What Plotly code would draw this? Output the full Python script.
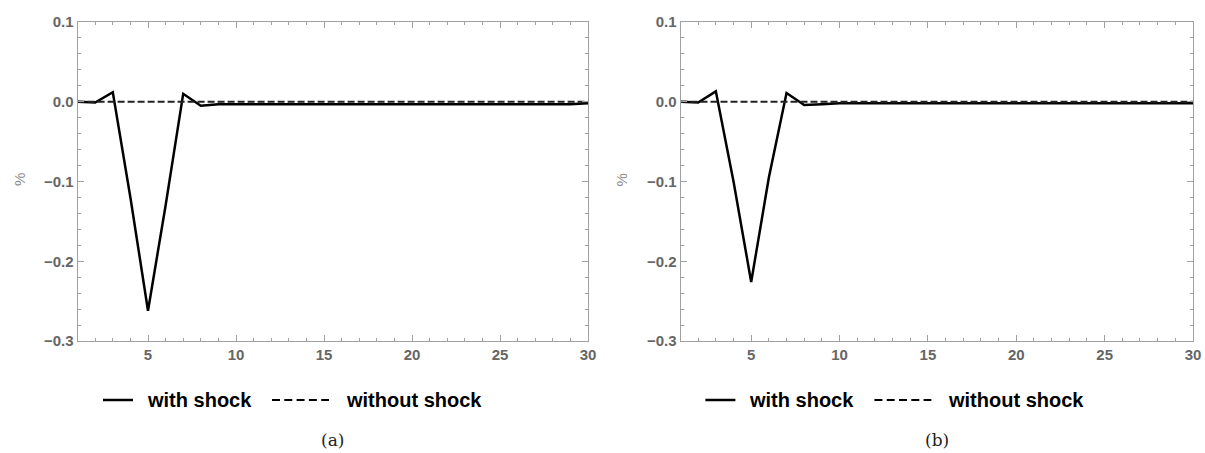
import plotly.graph_objects as go

periods = list(range(1, 31))
with_shock_a = [0.0, -0.001, 0.012, -0.12, -0.262, -0.13, 0.010, -0.005, -0.003, -0.003,
                -0.003, -0.003, -0.003, -0.003, -0.003, -0.003, -0.003, -0.003, -0.003, -0.003,
                -0.003, -0.003, -0.003, -0.003, -0.003, -0.003, -0.003, -0.003, -0.003, -0.002]
with_shock_b = [0.0, -0.001, 0.013, -0.10, -0.226, -0.095, 0.011, -0.004, -0.003, -0.002,
                -0.002, -0.002, -0.002, -0.002, -0.002, -0.002, -0.002, -0.002, -0.002, -0.002,
                -0.002, -0.002, -0.002, -0.002, -0.002, -0.002, -0.002, -0.002, -0.002, -0.002]
without_shock = [0.0] * 30
series_names = ["with shock", "without shock"]
captions = ["(a)", "(b)"]
y_label = "%"

W, H = 1205, 453
def px(x):
    return x / W
def py(y):
    return 1 - y / H

domains_x = [(px(77.6), px(588)), (px(680.5), px(1193))]
domain_y = (py(341), py(22))

fig = go.Figure()
panels = [with_shock_a, with_shock_b]
for i, ws in enumerate(panels):
    xa = "x" if i == 0 else "x2"
    ya = "y" if i == 0 else "y2"
    fig.add_trace(go.Scatter(x=periods, y=ws, mode="lines", xaxis=xa, yaxis=ya,
                             line=dict(color="black", width=2.5), showlegend=False,
                             name=series_names[0]))
    fig.add_trace(go.Scatter(x=periods, y=without_shock, mode="lines", xaxis=xa, yaxis=ya,
                             line=dict(color="#222222", width=2, dash="7px,3px"),
                             showlegend=False, name=series_names[1]))

tickfont = dict(family="Liberation Sans", size=15, color="#666666", weight="bold")
axis_common = dict(showgrid=False, zeroline=False, showline=True, linecolor="#a0a0a0",
                   linewidth=1, mirror="allticks", ticks="inside", tickcolor="#a0a0a0",
                   tickfont=tickfont, automargin=False)
for i in range(2):
    sfx = "" if i == 0 else "2"
    fig.update_layout(**{
        f"xaxis{sfx}": dict(axis_common, domain=list(domains_x[i]), range=[1, 30],
                            tickvals=[5, 10, 15, 20, 25, 30], ticklen=6,
                            minor=dict(dtick=1, tick0=0, ticks="inside", ticklen=3,
                                       tickcolor="#a0a0a0"),
                            anchor="y" + sfx),
        f"yaxis{sfx}": dict(axis_common, domain=list(domain_y), range=[-0.3, 0.1],
                            tickvals=[-0.3, -0.2, -0.1, 0.0, 0.1], tickformat=".1f",
                            ticklen=6,
                            minor=dict(dtick=0.02, tick0=0, ticks="inside", ticklen=3,
                                       tickcolor="#a0a0a0"),
                            anchor="x" + sfx),
    })

shapes = []
annotations = []
for i in range(2):
    off = 0 if i == 0 else 602.4
    ly = py(400)
    shapes.append(dict(type="line", xref="paper", yref="paper",
                       x0=px(103 + off), x1=px(133 + off), y0=ly, y1=ly,
                       line=dict(color="black", width=2.5)))
    shapes.append(dict(type="line", xref="paper", yref="paper",
                       x0=px(272 + off), x1=px(329 + off), y0=ly, y1=ly,
                       line=dict(color="black", width=2, dash="8px,4.3px")))
    annotations.append(dict(text=series_names[0], xref="paper", yref="paper",
                            x=px(145 + off), y=ly, xanchor="left", yanchor="middle",
                            showarrow=False,
                            font=dict(family="Liberation Sans", size=20, color="black",
                                      weight="bold")))
    annotations.append(dict(text=series_names[1], xref="paper", yref="paper",
                            x=px(344 + off), y=ly, xanchor="left", yanchor="middle",
                            showarrow=False,
                            font=dict(family="Liberation Sans", size=20, color="black",
                                      weight="bold")))
    annotations.append(dict(text=captions[i], xref="paper", yref="paper",
                            x=(domains_x[i][0] + domains_x[i][1]) / 2, y=py(440),
                            xanchor="center", yanchor="middle", showarrow=False,
                            font=dict(family="DejaVu Serif", size=17, color="#222222")))
    annotations.append(dict(text=y_label, xref="paper", yref="paper",
                            x=px(19 + off), y=py(180), xanchor="center", yanchor="middle",
                            textangle=-90, showarrow=False,
                            font=dict(family="Liberation Sans", size=15, color="#8a8a8a")))

fig.update_layout(width=W, height=H,
                  margin=dict(l=0, r=0, t=0, b=0, pad=0, autoexpand=False),
                  plot_bgcolor="white", paper_bgcolor="white",
                  shapes=shapes, annotations=annotations, showlegend=False)

fig.write_html("out.html", config={"displayModeBar": False},
               post_script="document.body.style.margin='0';document.body.style.overflow='hidden';")
